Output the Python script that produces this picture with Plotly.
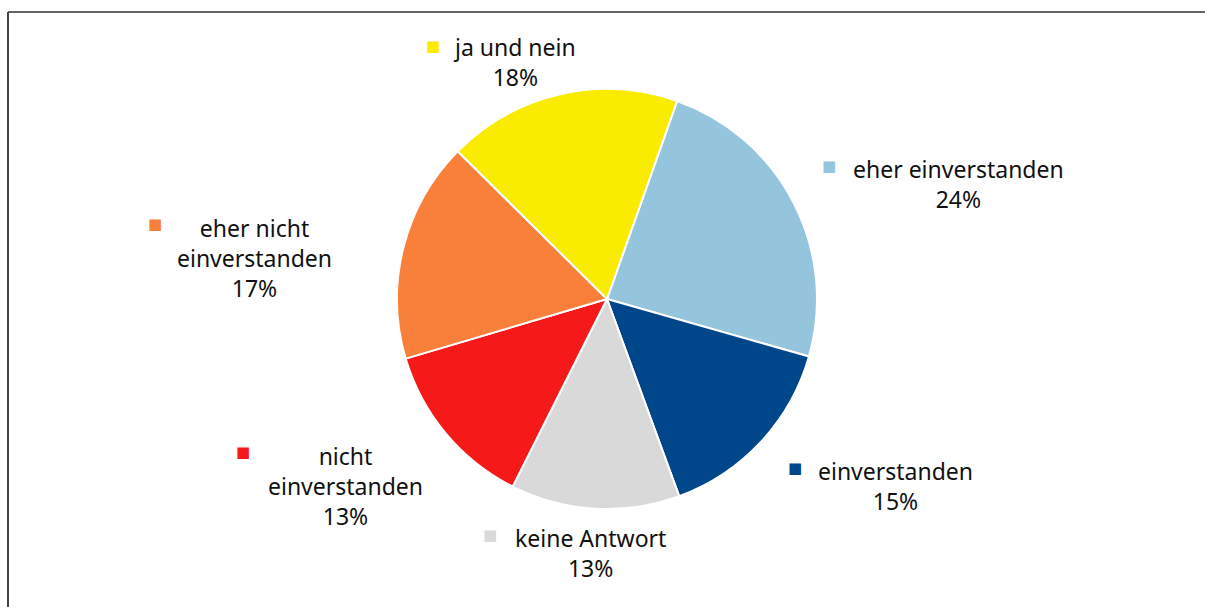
import plotly.graph_objects as go

# Data
categories = ["eher einverstanden", "einverstanden", "keine Antwort",
              "nicht einverstanden", "eher nicht einverstanden", "ja und nein"]
values = [24, 15, 13, 13, 17, 18]
label_lines = ["eher einverstanden", "einverstanden", "keine Antwort",
               "nicht<br>einverstanden", "eher nicht<br>einverstanden", "ja und nein"]
colors = ["#95C5DD", "#00468A", "#D9D9D9", "#F5191A", "#F9803A", "#F9EC00"]

W, H = 1205, 607

# label layout (pixel positions of text centre, key square position)
text_pos = [(959, 184), (895, 486), (590, 553), (345, 486), (254, 258), (514, 62)]
key_pos = [(829, 166), (795, 468), (490, 535), (243, 452), (155, 224), (433, 46)]

fig = go.Figure()
cx, cy, r = 607, 299, 210
fig.add_trace(go.Pie(
    labels=categories, values=values, sort=False, direction="clockwise",
    rotation=19.5, marker=dict(colors=colors, line=dict(color="white", width=2)),
    textinfo="none", hoverinfo="label+percent", showlegend=False,
    domain=dict(x=[(cx - r) / W, (cx + r) / W], y=[1 - (cy + r) / H, 1 - (cy - r) / H]),
))

total = sum(values)
font = dict(family="Noto Sans, Open Sans, sans-serif", size=23, color="#111111")
for lab, v, col, (tx, ty), (kx, ky) in zip(label_lines, values, colors, text_pos, key_pos):
    pct = round(100 * v / total)
    fig.add_annotation(x=tx / W, y=1 - ty / H, xref="paper", yref="paper",
                       text=f"{lab}<br>{pct}%", showarrow=False, font=font,
                       align="center", xanchor="center", yanchor="middle")
    fig.add_annotation(x=kx / W, y=1 - ky / H, xref="paper", yref="paper",
                       text="■", showarrow=False,
                       font=dict(family="DejaVu Sans", size=15, color=col),
                       xanchor="center", yanchor="middle")

# chart frame (top and left edges visible)
fig.add_shape(type="line", xref="paper", yref="paper",
              x0=8 / W, x1=1.0, y0=1 - 12 / H, y1=1 - 12 / H,
              line=dict(color="#666666", width=2))
fig.add_shape(type="line", xref="paper", yref="paper",
              x0=8 / W, x1=8 / W, y0=0, y1=1 - 12 / H,
              line=dict(color="#444444", width=2))

fig.update_layout(width=W, height=H, margin=dict(l=0, r=0, t=0, b=0),
                  paper_bgcolor="white", plot_bgcolor="white")
fig.write_html("out.html", config={"displayModeBar": False},
               post_script="document.body.style.margin='0';document.body.style.overflow='hidden';")
